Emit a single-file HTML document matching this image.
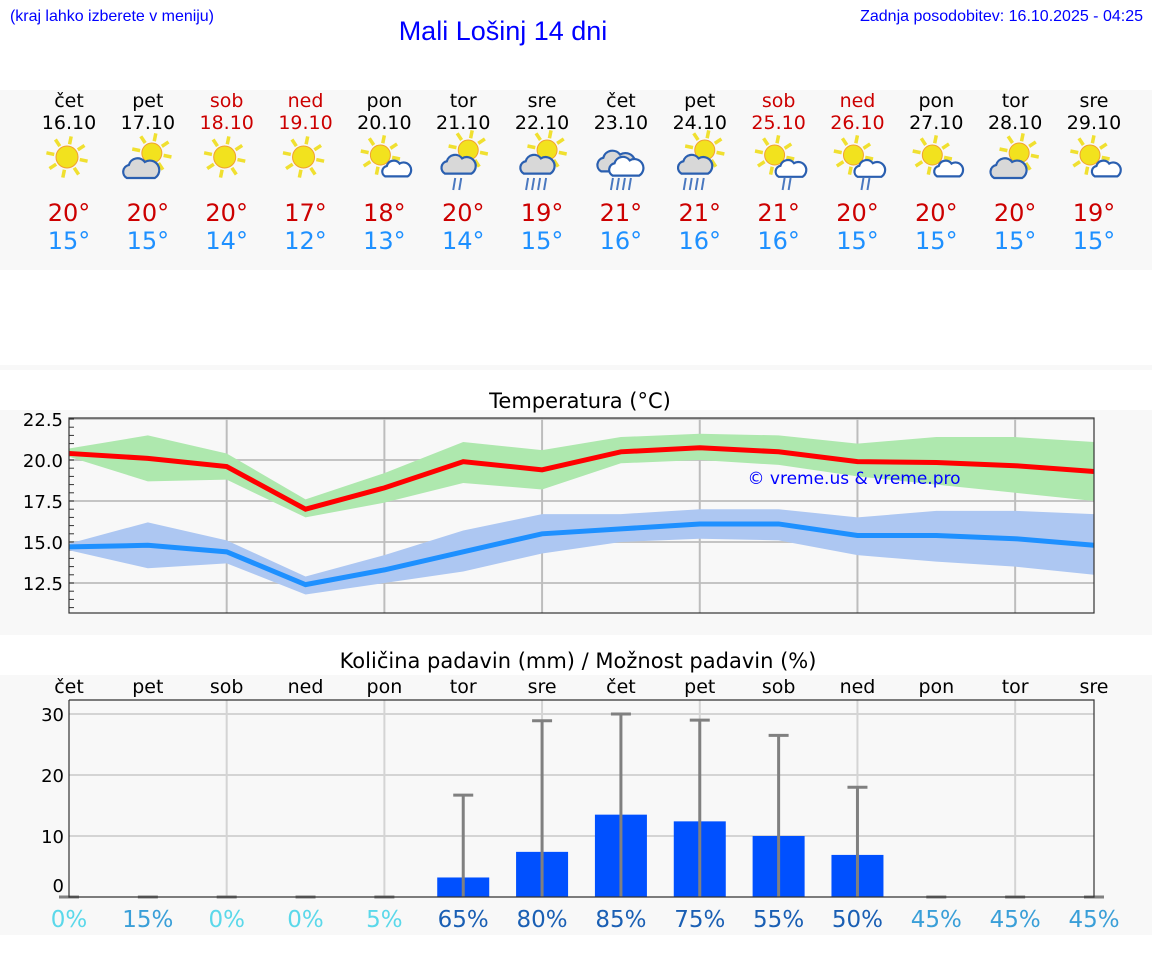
<!DOCTYPE html>
<html><head><meta charset="utf-8"><style>
body{margin:0;width:1152px;height:975px;background:#fff;overflow:hidden;font-family:"DejaVu Sans","Liberation Sans",sans-serif;}
svg{display:block}
</style></head><body>
<svg id="s" width="1152" height="975" xmlns="http://www.w3.org/2000/svg">
<rect x="0" y="90" width="1152" height="180" fill="#f8f8f8"/>
<rect x="0" y="365" width="1152" height="5" fill="#f8f8f8"/>
<rect x="0" y="410" width="1152" height="225" fill="#f8f8f8"/>
<rect x="0" y="675" width="1152" height="260" fill="#f8f8f8"/>
<text x="10" y="21" font-family="Liberation Sans, sans-serif" font-size="16" fill="#0000ff" textLength="204">(kraj lahko izberete v meniju)</text>
<text x="503" y="40" text-anchor="middle" font-family="Liberation Sans, sans-serif" font-size="27" fill="#0000ff">Mali Lošinj 14 dni</text>
<text x="1143" y="21" text-anchor="end" font-family="Liberation Sans, sans-serif" font-size="16" fill="#0000ff">Zadnja posodobitev: 16.10.2025 - 04:25</text>
<text x="580" y="408" text-anchor="middle" font-size="21" fill="#000">Temperatura (°C)</text>
<text x="578" y="668" text-anchor="middle" font-size="21" fill="#000">Količina padavin (mm) / Možnost padavin (%)</text>
<g id="hdr"></g>
<rect x="69" y="418" width="1025" height="195" fill="#f8f8f8"/>
<g id="temp"></g>
<rect x="69" y="700" width="1025" height="197" fill="#f8f8f8"/>
<g id="prec"></g>
</svg>
<script>
const days=["čet","pet","sob","ned","pon","tor","sre","čet","pet","sob","ned","pon","tor","sre"];
const dates=["16.10","17.10","18.10","19.10","20.10","21.10","22.10","23.10","24.10","25.10","26.10","27.10","28.10","29.10"];
const hiLabels=[20,20,20,17,18,20,19,21,21,21,20,20,20,19];
const loLabels=[15,15,14,12,13,14,15,16,16,16,15,15,15,15];
const icons=[0,1,0,0,2,3,3,4,3,5,5,2,1,2];
const tMax=[20.4,20.1,19.6,17.0,18.3,19.9,19.4,20.5,20.75,20.5,19.9,19.85,19.65,19.3];
const tMaxHi=[20.7,21.5,20.4,17.6,19.2,21.1,20.6,21.4,21.6,21.5,21.0,21.4,21.4,21.1];
const tMaxLo=[20.2,18.7,18.8,16.5,17.4,18.6,18.2,19.8,20.0,19.7,19.0,18.5,18.0,17.5];
const tMin=[14.7,14.8,14.4,12.4,13.3,14.4,15.5,15.8,16.1,16.1,15.4,15.4,15.2,14.8];
const tMinHi=[14.9,16.2,15.1,12.9,14.2,15.7,16.7,16.7,17.0,17.0,16.5,16.9,16.9,16.7];
const tMinLo=[14.5,13.4,13.7,11.8,12.5,13.2,14.3,15.0,15.2,15.1,14.2,13.8,13.5,13.0];
const tTicks=[12.5,15.0,17.5,20.0,22.5];
const precip=[0,0,0,0,0,3.2,7.4,13.5,12.4,10,6.9,0,0,0];
const precipMax=[0,0,0,0,0,16.7,28.9,30,29,26.5,18,0,0,0];
const chance=[0,15,0,0,5,65,80,85,75,55,50,45,45,45];
const pTicks=[0,10,20,30];
const weekend=[2,3,9,10];

const NS="http://www.w3.org/2000/svg";
function mk(t,a,p){const e=document.createElementNS(NS,t);for(const k in a)e.setAttribute(k,a[k]);p.appendChild(e);return e;}
const X=i=>69+i*(1094-69)/13;
const TY=v=>460-(v-20)*16.4;
const PY=v=>897-v*6.1;

const hdr=document.getElementById('hdr');
function sun(g,cx,cy,r){
  for(let k=0;k<8;k++){const a=k*Math.PI/4+0.2;
    mk('line',{x1:cx+Math.cos(a)*(r+2),y1:cy+Math.sin(a)*(r+2),x2:cx+Math.cos(a)*(r+10),y2:cy+Math.sin(a)*(r+10),stroke:'#f0e030','stroke-width':3.5},g);}
  mk('circle',{cx:cx,cy:cy,r:r,fill:'#f2e21e',stroke:'#f0a030','stroke-width':1},g);
}
function cloud(g,cx,cy,s,fill){
  const d=`M${cx-14*s},${cy+8*s} a${7*s},${7*s} 0 0 1 ${2*s},${-13*s} a${9*s},${9*s} 0 0 1 ${16*s},${-3*s} a${7*s},${7*s} 0 0 1 ${10*s},${16*s} z`;
  mk('path',{d:d,fill:fill,stroke:'#2a5fb0','stroke-width':2.2},g);
}
function rain(g,cx,cy,n){for(let k=0;k<n;k++){mk('line',{x1:cx+k*6-n*3+4,y1:cy,x2:cx+k*6-n*3+2,y2:cy+12,stroke:'#4a78c0','stroke-width':2},g);}}
for(let i=0;i<14;i++){
  const x=X(i), we=weekend.includes(i), col=we?'#cc0000':'#000';
  let t=mk('text',{x:x,y:107,'text-anchor':'middle','font-size':19,fill:col},hdr);t.textContent=days[i];
  
  
  t=mk('text',{x:x,y:129,'text-anchor':'middle','font-size':19,fill:col},hdr);t.textContent=dates[i];
  
  
  const g=mk('g',{},hdr);
  
  
  const ic=icons[i];
  if(ic===0){sun(g,x-2,157,11);}
  else if(ic===1){sun(g,x+4,153,10);cloud(g,x-7,170,1.0,'#d8d8d8');}
  else if(ic===2){sun(g,x-4,155,10);cloud(g,x+12,170,0.8,'#fff');}
  else if(ic===3){sun(g,x+5,150,10);cloud(g,x-5,166,0.95,'#d8d8d8');rain(g,x-6,178,i===5?2:4);}
  else if(ic===4){cloud(g,x-5,163,1.05,'#d8d8d8');cloud(g,x+5,168,0.95,'#fff');rain(g,x,178,4);}
  else if(ic===5){sun(g,x-4,155,10);cloud(g,x+12,170,0.85,'#fff');rain(g,x+8,178,2);}
  t=mk('text',{x:x,y:221,'text-anchor':'middle','font-size':24,fill:'#cc0000'},hdr);t.textContent=hiLabels[i]+'°';
  
  
  t=mk('text',{x:x,y:249,'text-anchor':'middle','font-size':24,fill:'#1e90ff'},hdr);t.textContent=loLabels[i]+'°';
  
  
}

const tg=document.getElementById('temp');
tTicks.forEach(v=>{
  const l=mk('line',{x1:69,x2:1094,y1:TY(v),y2:TY(v),stroke:'#c4c4c4','stroke-width':2},tg);
  
  
  const t=mk('text',{x:63,y:TY(v)+7,'text-anchor':'end','font-size':18},tg);t.textContent=v.toFixed(1);
  
  
});
for(let v=11;v<=22.5;v+=0.5){mk('line',{x1:69,x2:74,y1:TY(v),y2:TY(v),stroke:'#333','stroke-width':1},tg);}
for(let i=2;i<14;i+=2){const l=mk('line',{x1:X(i),x2:X(i),y1:418,y2:613,stroke:'#bdbdbd','stroke-width':2},tg);
  
  }
function band(hi,lo,fill,name){
  let d='M'+hi.map((v,i)=>X(i)+','+TY(v)).join(' L')+' L'+lo.map((v,i)=>X(i)+','+TY(v)).reverse().join(' L')+'Z';
  const p=mk('path',{d:d,fill:fill},tg);
  
  
}
function line(v,c,name){const p=mk('polyline',{points:v.map((y,i)=>X(i)+','+TY(y)).join(' '),fill:'none',stroke:c,'stroke-width':5},tg);
  
  }
band(tMaxHi,tMaxLo,'#aee8ae','max-temp-range');
band(tMinHi,tMinLo,'#adc7f2','min-temp-range');
line(tMax,'#ff0000','max-temp-line');
line(tMin,'#1e90ff','min-temp-line');
let wm=mk('text',{x:854,y:484,'text-anchor':'middle','font-size':17,fill:'#0000ff'},tg);wm.textContent='© vreme.us & vreme.pro';


mk('rect',{x:69,y:418,width:1025,height:195,fill:'none',stroke:'#333','stroke-width':1.2},tg);

const pg=document.getElementById('prec');
for(let i=0;i<14;i++){const t=mk('text',{x:X(i),y:693,'text-anchor':'middle','font-size':19},pg);t.textContent=days[i];
  
  }
pTicks.forEach(v=>{
  if(v>0){const l=mk('line',{x1:69,x2:1094,y1:PY(v),y2:PY(v),stroke:'#d4d4d4','stroke-width':2},pg);
  
  }
  const t=mk('text',{x:64,y:(v===0?PY(v)-5:PY(v)+7),'text-anchor':'end','font-size':18},pg);t.textContent=v;
  
  
});
for(let i=2;i<14;i+=2){const l=mk('line',{x1:X(i),x2:X(i),y1:700,y2:897,stroke:'#d4d4d4','stroke-width':2},pg);
  
  }
for(let i=0;i<14;i++){
  const x=X(i);
  if(precip[i]>0){const b=mk('rect',{x:x-26,y:PY(precip[i]),width:52,height:PY(0)-PY(precip[i]),fill:'#0050ff'},pg);
    
    }
  const e=mk('line',{x1:x,x2:x,y1:PY(precipMax[i]),y2:PY(0),stroke:'#808080','stroke-width':3},pg);
  
  
  mk('line',{x1:x-10,x2:x+10,y1:PY(precipMax[i]),y2:PY(precipMax[i]),stroke:'#808080','stroke-width':3},pg);
  const c=chance[i], col=c<=5?'#5bd8ea':(c<=45?'#3a9fd8':'#1a5fb4');
  const t=mk('text',{x:x,y:927,'text-anchor':'middle','font-size':23,fill:col},pg);t.textContent=c+'%';
  
  
}
mk('polyline',{points:'69,700 1094,700 1094,897 69,897 69,700',fill:'none',stroke:'#333','stroke-width':1.2},pg);
</script>
</body></html>
